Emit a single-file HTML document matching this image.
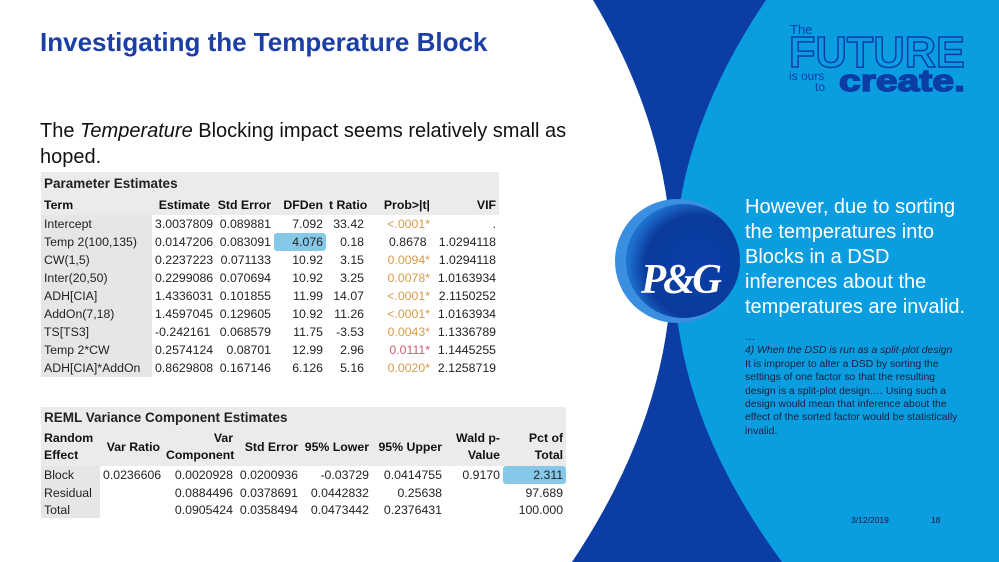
<!DOCTYPE html>
<html><head><meta charset="utf-8"><style>
*{margin:0;padding:0;box-sizing:border-box}
body{width:999px;height:562px;overflow:hidden;position:relative;background:#fff;font-family:"Liberation Sans",Arial,sans-serif}
.abs{position:absolute}
table{border-collapse:collapse;font-family:"Liberation Sans",sans-serif;font-size:12.3px;color:#222;table-layout:fixed}
td{padding:0 3px;white-space:nowrap;text-align:right}
td.l{text-align:left}
.hd td{font-weight:bold;background:#ebebeb;color:#111}
.tt{font-weight:bold;background:#ebebeb;font-size:13.5px;text-align:left}
.g td:first-child{background:#e6e6e6}
.o{color:#d89a4a}.r{color:#d05a70}
.hl{background:#86c8e8!important;border-radius:3px}
</style></head><body>
<svg class="abs" style="left:0;top:0" width="999" height="562">
<path d="M560,0 L999,0 L999,562 L560,562 Z" fill="#0b3da4"/>
<path d="M766,0 Q575,281 782,562 L999,562 L999,0 Z" fill="#0a9de0"/>
<path d="M0,0 L593,0 Q760,281 572,562 L0,562 Z" fill="#fff"/>
<defs><radialGradient id="pg" cx="0.62" cy="0.55" r="0.6"><stop offset="0" stop-color="#0b3fa8"/><stop offset="0.75" stop-color="#0a3a9c"/><stop offset="1" stop-color="#1e70cf"/></radialGradient></defs>
<circle cx="677" cy="261" r="62" fill="#3b8fe0"/>
<circle cx="683" cy="261" r="57" fill="url(#pg)"/>
<text x="641" y="293" font-family="Liberation Serif,serif" font-style="italic" font-weight="bold" font-size="42" fill="#fff" letter-spacing="-3" textLength="78" lengthAdjust="spacingAndGlyphs">P&amp;G</text>
<text x="790" y="34" font-size="13" fill="#0b3da4" font-family="Liberation Sans">The</text>
<text x="789" y="0" font-size="36" font-weight="bold" fill="none" stroke="#0b3da4" stroke-width="1.2" font-family="Liberation Sans" textLength="176" lengthAdjust="spacingAndGlyphs" transform="translate(0,67) scale(1,1.2)">FUTURE</text>
<text x="789" y="80" font-size="12" fill="#0b3da4" font-family="Liberation Sans">is ours</text>
<text x="815" y="91" font-size="12" fill="#0b3da4" font-family="Liberation Sans">to</text>
<text x="839" y="91" font-size="31" font-weight="bold" fill="#0b3da4" stroke="#0b3da4" stroke-width="1.5" font-family="Liberation Sans" textLength="126" lengthAdjust="spacingAndGlyphs">create.</text>
</svg>
<div class="abs" style="left:40px;top:27px;font-size:26px;font-weight:bold;color:#1b3fa5">Investigating the Temperature Block</div>
<div class="abs" style="left:40px;top:118px;width:560px;font-size:20px;line-height:26px;color:#111">The <i>Temperature</i> Blocking impact seems relatively small as hoped.</div>

<table class="abs" style="left:41px;top:172px;width:458px">
<colgroup><col style="width:111px"><col style="width:61px"><col style="width:61px"><col style="width:52px"><col style="width:41px"><col style="width:66px"><col style="width:66px"></colgroup>
<tr style="height:22px"><td colspan="7" class="tt">Parameter Estimates</td></tr>
<tr class="hd" style="height:21px"><td class="l">Term</td><td>Estimate</td><td>Std Error</td><td>DFDen</td><td>t Ratio</td><td>Prob&gt;|t|</td><td>VIF</td></tr>
<tbody class="g">
<tr style="height:18px"><td class="l">Intercept</td><td>3.0037809</td><td>0.089881</td><td>7.092</td><td>33.42</td><td class="o">&lt;.0001*</td><td>.</td></tr>
<tr style="height:18px"><td class="l">Temp 2(100,135)</td><td>0.0147206</td><td>0.083091</td><td class="hl">4.076</td><td>0.18</td><td>0.8678&nbsp;</td><td>1.0294118</td></tr>
<tr style="height:18px"><td class="l">CW(1,5)</td><td>0.2237223</td><td>0.071133</td><td>10.92</td><td>3.15</td><td class="o">0.0094*</td><td>1.0294118</td></tr>
<tr style="height:18px"><td class="l">Inter(20,50)</td><td>0.2299086</td><td>0.070694</td><td>10.92</td><td>3.25</td><td class="o">0.0078*</td><td>1.0163934</td></tr>
<tr style="height:18px"><td class="l">ADH[CIA]</td><td>1.4336031</td><td>0.101855</td><td>11.99</td><td>14.07</td><td class="o">&lt;.0001*</td><td>2.1150252</td></tr>
<tr style="height:18px"><td class="l">AddOn(7,18)</td><td>1.4597045</td><td>0.129605</td><td>10.92</td><td>11.26</td><td class="o">&lt;.0001*</td><td>1.0163934</td></tr>
<tr style="height:18px"><td class="l">TS[TS3]</td><td>-0.242161</td><td>0.068579</td><td>11.75</td><td>-3.53</td><td class="o">0.0043*</td><td>1.1336789</td></tr>
<tr style="height:18px"><td class="l">Temp 2*CW</td><td>0.2574124</td><td>0.08701</td><td>12.99</td><td>2.96</td><td class="r">0.0111*</td><td>1.1445255</td></tr>
<tr style="height:18px"><td class="l">ADH[CIA]*AddOn</td><td>0.8629808</td><td>0.167146</td><td>6.126</td><td>5.16</td><td class="o">0.0020*</td><td>2.1258719</td></tr>
</tbody></table>

<table class="abs" style="left:41px;top:407px;width:525px">
<colgroup><col style="width:59px"><col style="width:63px"><col style="width:73px"><col style="width:65px"><col style="width:71px"><col style="width:73px"><col style="width:58px"><col style="width:63px"></colgroup>
<tr style="height:21px"><td colspan="8" class="tt">REML Variance Component Estimates</td></tr>
<tr class="hd" style="height:38px;line-height:17px"><td class="l">Random<br>Effect</td><td>Var Ratio</td><td>Var<br>Component</td><td>Std Error</td><td>95% Lower</td><td>95% Upper</td><td>Wald p-<br>Value</td><td>Pct of<br>Total</td></tr>
<tbody class="g">
<tr style="height:18px"><td class="l">Block</td><td>0.0236606</td><td>0.0020928</td><td>0.0200936</td><td>-0.03729</td><td>0.0414755</td><td>0.9170</td><td class="hl">2.311</td></tr>
<tr style="height:17px"><td class="l">Residual</td><td></td><td>0.0884496</td><td>0.0378691</td><td>0.0442832</td><td>0.25638</td><td></td><td>97.689</td></tr>
<tr style="height:17px"><td class="l">Total</td><td></td><td>0.0905424</td><td>0.0358494</td><td>0.0473442</td><td>0.2376431</td><td></td><td>100.000</td></tr>
</tbody></table>

<div class="abs" style="left:745px;top:195px;font-size:20px;line-height:25px;color:#fff;width:232px">However, due to sorting the temperatures into Blocks in a DSD inferences about the temperatures are invalid.</div>
<div class="abs" style="left:745px;top:331px;font-size:10.4px;line-height:13.4px;color:#1a1f3a;width:222px">…<br><i style="white-space:nowrap">4) When the DSD is run as a split-plot design</i><br>It is improper to alter a DSD by sorting the settings of one factor so that the resulting design is a split-plot design.… Using such a design would mean that inference about the effect of the sorted factor would be statistically invalid.</div>
<div class="abs" style="left:851px;top:515px;font-size:8.5px;color:#1a1f3a">3/12/2019</div>
<div class="abs" style="left:931px;top:515px;font-size:8.5px;color:#1a1f3a">18</div>
</body></html>
